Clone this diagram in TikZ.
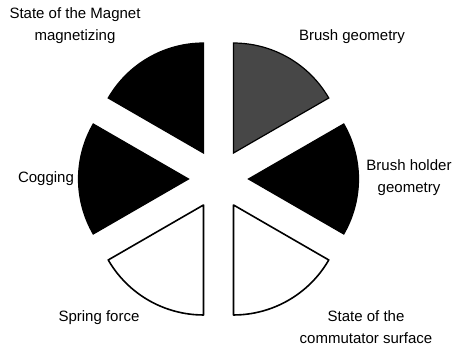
\documentclass[tikz,border=0pt]{standalone}
\usepackage{fontspec}
\setmainfont{Liberation Sans}
\usetikzlibrary{calc}
\begin{document}
\begin{tikzpicture}[x=1pt,y=1pt,
  lbl/.style={align=center,font=\fontsize{15}{22}\selectfont,inner sep=0pt},
  blk/.style={fill=black,draw=black,line width=1.2},
  wht/.style={fill=white,draw=black,line width=1.6,line join=round},
  gry/.style={fill=black!72,draw=black,line width=1.2}]
\useasboundingbox (0,0) rectangle (455,350);
\coordinate (C) at (218.5,171);
\def\R{110}
\def\D{30}
% sectors: bisector angle theta, spanning theta-30 .. theta+30
\filldraw[gry] ($(C)+(60:\D)$) coordinate (a1) -- ++(30:\R) arc[start angle=30,end angle=90,radius=\R] -- cycle;
\filldraw[blk] ($(C)+(0:\D)$) coordinate (a2) -- ++(-30:\R) arc[start angle=-30,end angle=30,radius=\R] -- cycle;
\filldraw[wht] ($(C)+(-60:\D)$) coordinate (a3) -- ++(-90:\R) arc[start angle=-90,end angle=-30,radius=\R] -- cycle;
\filldraw[wht] ($(C)+(240:\D)$) coordinate (a4) -- ++(210:\R) arc[start angle=210,end angle=270,radius=\R] -- cycle;
\filldraw[blk] ($(C)+(180:\D)$) coordinate (a5) -- ++(150:\R) arc[start angle=150,end angle=210,radius=\R] -- cycle;
\filldraw[blk] ($(C)+(120:\D)$) coordinate (a6) -- ++(90:\R) arc[start angle=90,end angle=150,radius=\R] -- cycle;
% labels
\node[lbl] (magnet) at (75,324) {State of the Magnet\\magnetizing};
\node[lbl] (brushgeo) at (352,313) {Brush geometry};
\node[lbl] (holder) at (409,172.5) {Brush holder\\geometry};
\node[lbl] (cog) at (46,171) {Cogging};
\node[lbl] (spring) at (99,32) {Spring force};
\node[lbl] (comm) at (366,22.5) {State of the\\commutator surface};
\end{tikzpicture}
\end{document}
